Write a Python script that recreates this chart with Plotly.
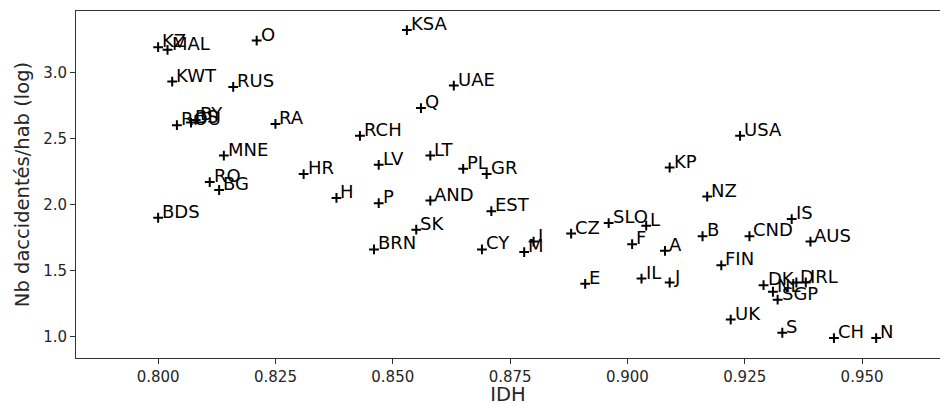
import plotly.graph_objects as go

codes = ["KZ", "MAL", "O", "KSA", "KWT", "RUS", "UAE", "Q", "ROU", "BS", "BY", "RA",
         "RCH", "MNE", "HR", "LV", "LT", "PL", "GR", "RO", "BG", "H", "P", "AND",
         "EST", "BDS", "SK", "BRN", "CY", "I", "M", "CZ", "SLO", "L", "F", "A",
         "E", "IL", "J", "KP", "USA", "NZ", "B", "CND", "IS", "AUS", "FIN", "DK",
         "NL", "SGP", "D", "IRL", "UK", "S", "CH", "N"]
idh = [0.800, 0.802, 0.821, 0.853, 0.803, 0.816, 0.863, 0.856, 0.804, 0.807, 0.808, 0.825,
       0.843, 0.814, 0.831, 0.847, 0.858, 0.865, 0.870, 0.811, 0.813, 0.838, 0.847, 0.858,
       0.871, 0.800, 0.855, 0.846, 0.869, 0.880, 0.878, 0.888, 0.896, 0.904, 0.901, 0.908,
       0.891, 0.903, 0.909, 0.909, 0.924, 0.917, 0.916, 0.926, 0.935, 0.939, 0.920, 0.929,
       0.931, 0.932, 0.936, 0.938, 0.922, 0.933, 0.944, 0.953]
log_acc = [3.19, 3.17, 3.24, 3.32, 2.93, 2.89, 2.90, 2.73, 2.60, 2.62, 2.64, 2.61,
           2.52, 2.37, 2.23, 2.30, 2.37, 2.27, 2.23, 2.17, 2.11, 2.05, 2.01, 2.03,
           1.95, 1.90, 1.81, 1.66, 1.66, 1.72, 1.64, 1.78, 1.86, 1.84, 1.70, 1.65,
           1.40, 1.44, 1.41, 2.28, 2.52, 2.06, 1.76, 1.76, 1.89, 1.72, 1.54, 1.39,
           1.34, 1.28, 1.41, 1.41, 1.13, 1.03, 0.99, 0.99]
x_ticks = [0.800, 0.825, 0.850, 0.875, 0.900, 0.925, 0.950]
y_ticks = [1.0, 1.5, 2.0, 2.5, 3.0]

FONT = "DejaVu Sans"
TXT = "#262626"

fig = go.Figure()
fig.add_trace(go.Scatter(
    x=idh, y=log_acc, mode="markers",
    marker=dict(symbol="cross-thin", size=7, line=dict(width=2, color="black"), color="black"),
    showlegend=False, hoverinfo="skip"))

for c, xv, yv in zip(codes, idh, log_acc):
    fig.add_annotation(x=xv, y=yv, xref="x", yref="y", text=c, showarrow=False,
                       xanchor="left", yanchor="bottom", xshift=2, yshift=-6,
                       font=dict(family=FONT, size=18, color="black"))

axis_common = dict(showline=True, linecolor="#333333", linewidth=1, mirror=True,
                   ticks="outside", ticklen=5, tickwidth=1, tickcolor="#333333",
                   showgrid=False, zeroline=False, automargin=False,
                   tickfont=dict(family=FONT, size=15, color=TXT))
fig.update_xaxes(range=[0.7825, 0.9666], tickvals=x_ticks,
                 ticktext=[f"{v:.3f}" for v in x_ticks],
                 title=dict(text="IDH", font=dict(family=FONT, size=19.5, color=TXT), standoff=7),
                 **axis_common)
fig.update_yaxes(range=[0.839, 3.464], tickvals=y_ticks,
                 ticktext=[f"{v:.1f}" for v in y_ticks],
                 title=dict(text="Nb daccidentés/hab (log)", font=dict(family=FONT, size=19.5, color=TXT), standoff=8),
                 **axis_common)
# The page body adds an 8px offset, so the figure is sized to fit inside the window.
fig.update_layout(width=940, height=398, margin=dict(l=68, r=8, t=3, b=48),
                  plot_bgcolor="white", paper_bgcolor="white",
                  font=dict(family=FONT, color=TXT))
fig.write_html("out.html")
